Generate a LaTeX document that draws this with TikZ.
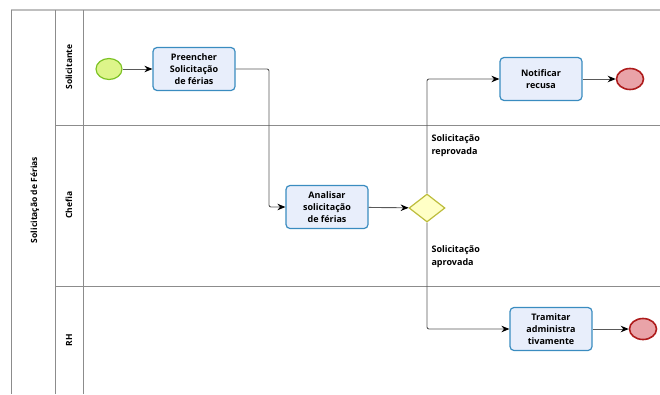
\documentclass[tikz,border=0pt]{standalone}
\usepackage{fontspec}
\setmainfont{Open Sans}
\usetikzlibrary{shapes.geometric,arrows.meta}
\definecolor{taskfill}{HTML}{E8EEFB}
\definecolor{taskline}{HTML}{3A8CC0}
\definecolor{startfill}{HTML}{DDF58A}
\definecolor{startline}{HTML}{7CC224}
\definecolor{endfill}{HTML}{E9A3A8}
\definecolor{endline}{HTML}{AE1C1C}
\definecolor{gwfill}{HTML}{FFFFC6}
\definecolor{gwline}{HTML}{BDBD3C}
\definecolor{laneline}{HTML}{8C8C8C}
\tikzset{task/.style={draw=taskline, fill=taskfill, rounded corners=4pt, line width=1.2pt, minimum width=82pt, minimum height=43pt, align=center, inner sep=1pt, font=\bfseries\fontsize{9}{12}\selectfont},
startev/.style={ellipse, draw=startline, fill=startfill, line width=1.2pt, minimum width=26pt, minimum height=21pt, inner sep=0pt},
endev/.style={ellipse, draw=endline, fill=endfill, line width=1.6pt, minimum width=27pt, minimum height=21pt, inner sep=0pt},
gateway/.style={diamond, draw=gwline, fill=gwfill, line width=1.2pt, minimum width=36pt, minimum height=28pt, inner sep=0pt, aspect=1.3},
flow/.style={draw=black!65, line width=0.9pt, rounded corners=2pt, -{Stealth[black, length=8pt, width=6.5pt]}},
lanelbl/.style={rotate=90, font=\bfseries\fontsize{8.5}{10}\selectfont},
flowlbl/.style={anchor=west, align=left, font=\bfseries\fontsize{9}{13}\selectfont}}

\begin{document}
\begin{tikzpicture}[x=1pt, y=-1pt]
	\useasboundingbox (0,0) rectangle (660,394);

	% pool and lanes
	\draw[black!25, line width=1.2pt] (11,10) -- (660,10);
	\draw[laneline, line width=1pt]
	(11,10) -- (11,394)
	(55,10) -- (55,394)
	(83,10) -- (83,394)
	(55,125) -- (660,125)
	(55,286) -- (660,286)
	;
	\node[lanelbl] (pool) at (35,200) {Solicitação de Férias};
	\node[lanelbl] (solic) at (69,67) {Solicitante};
	\node[lanelbl] (chefia) at (69,205) {Chefia};
	\node[lanelbl] (rh) at (69,340) {RH};

	% shapes
	\node[startev] (start) at (109,69) {};
	\node[task] (preench) at (194,69) {Preencher\\Solicitação\\de férias};
	\node[task] (analisar) at (327,207) {Analisar\\solicitação\\de férias};
	\node[gateway] (gw) at (427,208) {};
	\node[task] (notif) at (541,79) {Notificar\\recusa};
	\node[task] (tramitar) at (551,329) {Tramitar\\administra\\tivamente};
	\node[endev] (end1) at (630,79) {};
	\node[endev] (end2) at (643,329) {};
	\coordinate (bend) at (269,69);

	% flows
	\draw[flow] (start) -- (preench);
	\draw[flow] (preench.east) -- (bend) |- (analisar.west);
	\draw[flow] (analisar) -- (gw);
	\draw[flow] (gw.north) |- (notif.west);
	\draw[flow] (gw.south) |- (tramitar.west);
	\draw[flow] (notif) -- (end1);
	\draw[flow] (tramitar) -- (end2);

	\node[flowlbl] (reprov) at (428,146) {Solicitação\\reprovada};
	\node[flowlbl] (aprov) at (428,257) {Solicitação\\aprovada};
\end{tikzpicture}
\end{document}
